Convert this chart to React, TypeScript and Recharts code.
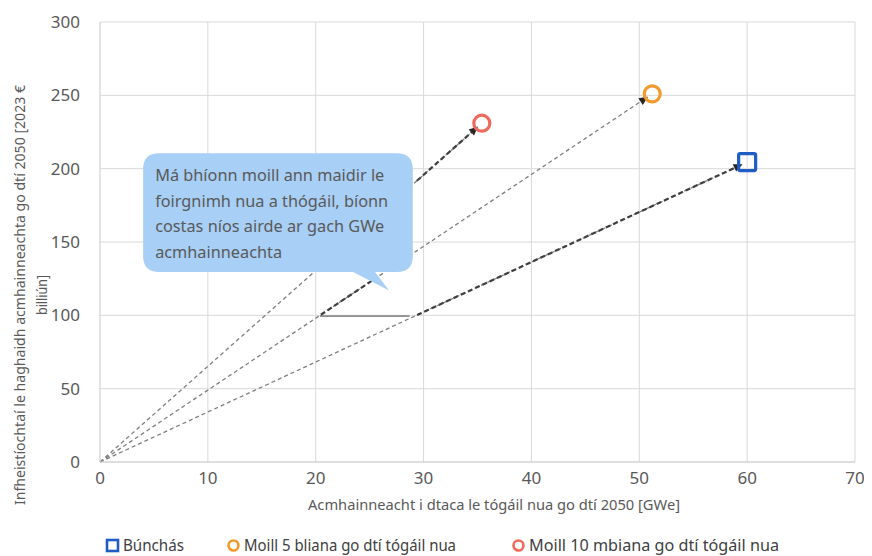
import React from 'react';
import {
  ScatterChart, Scatter, XAxis, YAxis, CartesianGrid, ReferenceLine, Legend, Label,
} from 'recharts';

// scenarios
const seriesNames = ['Búnchás', 'Moill 5 bliana go dtí tógáil nua', 'Moill 10 mbiana go dtí tógáil nua'];
const capacityGWe = [60, 51.2, 35.4];
const investmentBn = [204.5, 251, 231];
const seriesColors = ['#1f5cc4', '#f29a2e', '#ee6b5c'];
const seriesShapes = ['square', 'circle', 'circle'];

// part of each arrow drawn darker (fraction of the way from origin)
const boldFrom = [0.49, 0.4, 0.83];
const boldTo = [1, 0.52, 1];

const xTicks = [0, 10, 20, 30, 40, 50, 60, 70];
const yTicks = [0, 50, 100, 150, 200, 250, 300];

const calloutLines = [
  'Má bhíonn moill ann maidir le',
  'foirgnimh nua a thógáil, bíonn',
  'costas níos airde ar gach GWe',
  'acmhainneachta',
];
// callout box corners + tail tip in data units
const calloutBox = { x1: 4, y1: 210.5, x2: 29, y2: 129.5 };
const calloutTip = { x: 26.8, y: 117 };

const stubLine = [{ x: 20.4, y: 99.5 }, { x: 28.7, y: 99.5 }];

const GREY = '#595959';
const SANS = '"Noto Sans", "Open Sans", sans-serif';

const ArrowShape = (props: any) => {
  const { x1, y1, x2, y2, bold, from, to } = props;
  const dx = x2 - x1;
  const dy = y2 - y1;
  const len = Math.sqrt(dx * dx + dy * dy);
  const ux = dx / len;
  const uy = dy / len;
  const ex = x2 - ux * 5;
  const ey = y2 - uy * 5;
  const bx = x1 + dx * from;
  const by = y1 + dy * from;
  const cx = x1 + dx * to - ux * 5;
  const cy = y1 + dy * to - uy * 5;
  const hl = 9;
  const hw = 4;
  const px = -uy;
  const py = ux;
  const head = `${ex},${ey} ${ex - ux * hl + px * hw},${ey - uy * hl + py * hw} ${ex - ux * hl - px * hw},${ey - uy * hl - py * hw}`;
  return (
    <g>
      <line x1={x1} y1={y1} x2={ex - ux * 6} y2={ey - uy * 6} stroke="#7f7f7f" strokeWidth={1.3} strokeDasharray="4 3" />
      {bold && (
        <line x1={bx} y1={by} x2={cx - ux * 6} y2={cy - uy * 6} stroke="#3f3f3f" strokeWidth={2.2} strokeDasharray="5 3" />
      )}
      <polygon points={head} fill="#262626" />
    </g>
  );
};

const CalloutShape = (props: any) => {
  const { x1, y1, x2, y2 } = props;
  const r = 16;
  const sx = (x2 - x1) / (calloutBox.x2 - calloutBox.x1);
  const sy = (y2 - y1) / (calloutBox.y2 - calloutBox.y1);
  const tx = x1 + (calloutTip.x - calloutBox.x1) * sx;
  const ty = y1 + (calloutTip.y - calloutBox.y1) * sy;
  const t1 = tx - 36;
  const t2 = tx - 14;
  const d = `M${x1 + r},${y1} H${x2 - r} Q${x2},${y1} ${x2},${y1 + r} V${y2 - r} Q${x2},${y2} ${x2 - r},${y2}
    H${t2} L${tx},${ty} L${t1},${y2} H${x1 + r} Q${x1},${y2} ${x1},${y2 - r} V${y1 + r} Q${x1},${y1} ${x1 + r},${y1} Z`;
  return (
    <g>
      <path d={d} fill="#a8cff5" />
      <text x={x1 + 12} y={y1 + 28} fill={GREY} fontSize={16.3} fontFamily={SANS}>
        {calloutLines.map((l, i) => (
          <tspan key={i} x={x1 + 12} dy={i === 0 ? 0 : 25.5}>{l}</tspan>
        ))}
      </text>
    </g>
  );
};

const MarkerShape = (idx: number) => (props: any) => {
  const { cx, cy } = props;
  const c = seriesColors[idx];
  if (seriesShapes[idx] === 'square') {
    return <rect x={cx - 8.5} y={cy - 8.5} width={17} height={17} rx={1.5} fill="none" stroke={c} strokeWidth={3.2} />;
  }
  return <circle cx={cx} cy={cy} r={8} fill="none" stroke={c} strokeWidth={3.2} />;
};

// legend text widths squeezed to the reference's condensed font
const legendX = [69, 190, 475];
const legendW = [61, 212, 250];

const LegendContent = () => (
  <svg width={834} height={34} style={{ display: 'block', overflow: 'visible' }}>
    {seriesNames.map((n, i) => (
      <g key={n} transform={`translate(${legendX[i]}, 0)`}>
        {seriesShapes[i] === 'square'
          ? <rect x={0} y={18} width={11} height={11} fill="none" stroke={seriesColors[i]} strokeWidth={2.6} />
          : <circle cx={5.5} cy={23.5} r={5} fill="none" stroke={seriesColors[i]} strokeWidth={2.6} />}
        <text x={16} y={29} fill="#404040" fontSize={16.5} fontFamily={SANS} textLength={legendW[i]} lengthAdjust="spacingAndGlyphs">
          {n}
        </text>
      </g>
    ))}
  </svg>
);

const YTitle = () => {
  const cy = 287;
  return (
    <g fill={GREY} fontFamily={SANS} fontSize={14} textAnchor="middle">
      <text x={12} y={cy} transform={`rotate(-90, 12, ${cy})`} dy={5} textLength={420} lengthAdjust="spacingAndGlyphs">
        Infheistíochtaí le haghaidh acmhainneachta go dtí 2050 [2023 €
      </text>
      <text x={34} y={cy} transform={`rotate(-90, 34, ${cy})`} dy={5} textLength={40} lengthAdjust="spacingAndGlyphs">
        billiún]
      </text>
    </g>
  );
};

const XTitle = () => (
  <text x={486} y={502} fill={GREY} fontFamily={SANS} fontSize={14.5} textAnchor="middle" textLength={372} lengthAdjust="spacingAndGlyphs">
    Acmhainneacht i dtaca le tógáil nua go dtí 2050 [GWe]
  </text>
);

const App: React.FC = () => {
  const data = seriesNames.map((n, i) => [{ x: capacityGWe[i], y: investmentBn[i] }]);
  return (
    <div style={{ width: 864, height: 548 }}>
      <ScatterChart width={864} height={548} margin={{ top: 14, right: 17, left: 30, bottom: 0 }}>
        <CartesianGrid stroke="#d9d9d9" strokeWidth={1} />
        <XAxis
          type="number"
          dataKey="x"
          domain={[0, 70]}
          ticks={xTicks}
          tickLine={false}
          axisLine={{ stroke: '#d0d0d0' }}
          tick={{ fill: GREY, fontSize: 17, fontFamily: SANS }}
          tickMargin={4}
          height={60}
        >
          <Label content={<XTitle />} position="insideBottom" />
        </XAxis>
        <YAxis
          type="number"
          dataKey="y"
          domain={[0, 300]}
          ticks={yTicks}
          tickLine={false}
          axisLine={{ stroke: '#d9d9d9' }}
          tick={{ fill: GREY, fontSize: 17, fontFamily: SANS }}
          tickMargin={14}
          width={62}
        >
          <Label content={<YTitle />} position="insideLeft" />
        </YAxis>
        {seriesNames.map((n, i) => (
          <ReferenceLine
            key={`arrow-${i}`}
            segment={[{ x: 0, y: 0 }, { x: capacityGWe[i], y: investmentBn[i] }]}
            shape={(p: any) => <ArrowShape {...p} bold from={boldFrom[i]} to={boldTo[i]} />}
            ifOverflow="visible"
          />
        ))}
        <ReferenceLine segment={stubLine} stroke="#404040" strokeWidth={1} ifOverflow="visible" />
        <ReferenceLine
          segment={[{ x: calloutBox.x1, y: calloutBox.y1 }, { x: calloutBox.x2, y: calloutBox.y2 }]}
          shape={(p: any) => <CalloutShape {...p} />}
          ifOverflow="visible"
        />
        {seriesNames.map((n, i) => (
          <Scatter
            key={n}
            name={n}
            data={data[i]}
            fill={seriesColors[i]}
            shape={MarkerShape(i)}
            isAnimationActive={false}
          />
        ))}
        <Legend verticalAlign="bottom" height={34} content={<LegendContent />} />
      </ScatterChart>
    </div>
  );
};

export default App;
